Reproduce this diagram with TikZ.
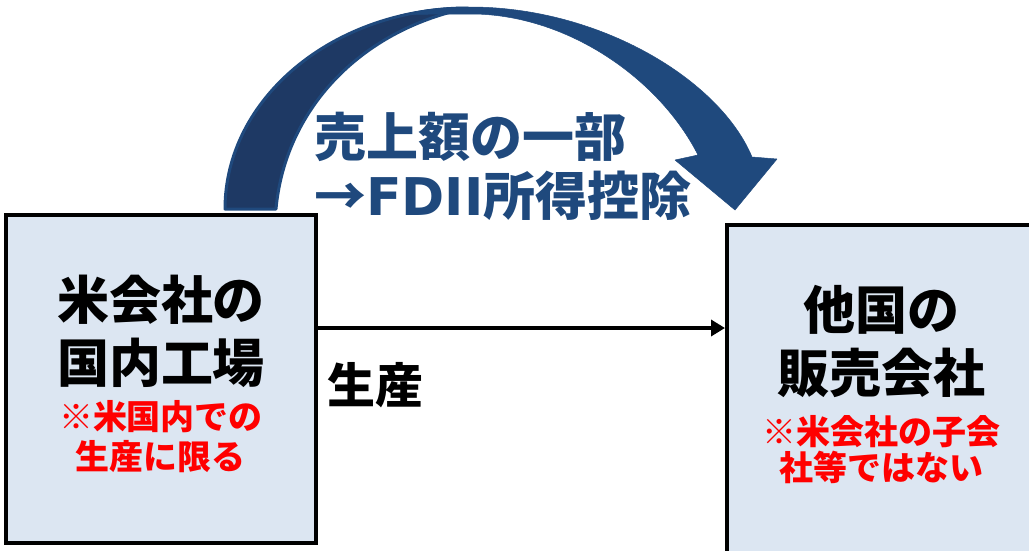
\documentclass[tikz,border=0pt]{standalone}
\usepackage{fontspec}
\setmainfont{Noto Sans CJK JP}
\newfontfamily\latinfont{DejaVu Sans}
\usetikzlibrary{arrows.meta}
\definecolor{boxfill}{RGB}{220,230,242}
\definecolor{arrowfront}{RGB}{31,73,125}
\definecolor{arrowback}{RGB}{30,57,100}
\definecolor{notered}{RGB}{255,0,0}
\begin{document}
\begin{tikzpicture}[x=1pt,y=-1pt,
  box/.style={draw=black,line width=4pt,fill=boxfill,inner sep=0pt},
  bigtext/.style={font=\fontsize{52}{63}\selectfont\bfseries,align=center,inner sep=0pt},
  redtext/.style={font=\fontsize{34}{40}\selectfont\bfseries,text=notered,align=center,inner sep=0pt},
  bluetext/.style={font=\fontsize{52}{60}\selectfont\bfseries,text=arrowfront,anchor=west,inner sep=0pt},
  flow/.style={line width=4pt,-{Triangle[length=14pt,width=16pt]}},
  arrowbackpart/.style={fill=arrowback,draw=arrowfront,line width=3pt,line join=round},
  arrowfrontpart/.style={fill=arrowfront,draw=arrowfront,line width=0.5pt,line join=round}]
\useasboundingbox (0,0) rectangle (1029,550);

% curved arrow (back part, then front part)
\path[arrowbackpart] (225,209) .. controls (225,98) and (334,8) .. (468,8)
  .. controls (360,30) and (285,110) .. (276,209) -- cycle;
\path[arrowfrontpart] (400,15) .. controls (425,9) and (445,7) .. (470,7)
  .. controls (600,7) and (720,80) .. (752,157) -- (777,159) -- (735,210)
  -- (675,160) -- (698,155) .. controls (660,80) and (570,16) .. (475,14)
  .. controls (450,14) and (425,14) .. (400,15) -- cycle;

\node[bluetext] (t1) at (314,137) {売上額の一部};
\node[bluetext] (t2) at (314,196) {→{\latinfont\bfseries FDII}所得控除};

% boxes
\node[box,minimum width=310pt,minimum height=328pt] (L) at (161,379) {};
\node[box,minimum width=308pt,minimum height=335pt] (R) at (881,392.5) {};

\node[bigtext] (Ltitle) at (161,331) {米会社の\\国内工場};
\node[redtext] (Lnote) at (161,437) {※米国内での\\生産に限る};
\node[bigtext] (Rtitle) at (881,341) {他国の\\販売会社};
\node[redtext,font=\fontsize{34}{36}\selectfont\bfseries] (Rnote) at (881,450) {※米会社の子会\\社等ではない};

\coordinate (flowy) at (0,328);
\draw[flow] (L.east |- flowy) -- (R.west |- flowy);
\node[bigtext,font=\fontsize{48}{56}\selectfont\bfseries,anchor=west] (prod) at (327,385) {生産};
\end{tikzpicture}
\end{document}
